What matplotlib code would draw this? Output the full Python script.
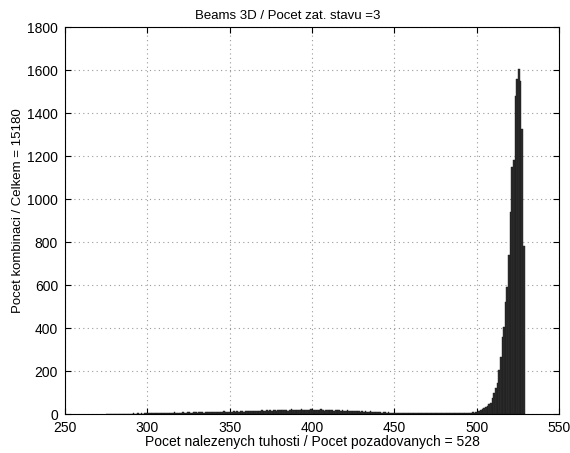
import numpy as np
import matplotlib
matplotlib.use('Agg')
import matplotlib.pyplot as plt

plt.rcParams['font.family'] = ['Liberation Sans', 'DejaVu Sans']

# pocty kombinaci pro kazdy pocet nalezenych tuhosti (od 275 do 528)
start_n = 275
counts_275_299 = [0, 0, 0, 1, 0, 1, 0, 1, 2, 1, 1, 2, 1, 2, 2, 1, 3, 2, 2, 3, 2, 3, 2, 4, 3]
counts_300_349 = [4, 5, 4, 6, 5, 5, 6, 4, 6, 7, 5, 6, 7, 6, 5, 7, 8, 6, 7, 6,
                  7, 8, 6, 7, 9, 8, 7, 6, 8, 9, 7, 8, 9, 8, 7, 9, 10, 8, 9, 8,
                  10, 9, 8, 11, 9, 10, 12, 9, 10, 11]
counts_350_399 = [11, 10, 12, 11, 13, 10, 12, 14, 11, 13, 12, 14, 13, 15, 12, 14, 16, 13, 15, 17,
                  14, 16, 18, 15, 17, 16, 19, 17, 15, 18, 20, 17, 19, 21, 18, 16, 20, 22, 19, 17,
                  21, 18, 20, 23, 19, 17, 21, 20, 18, 22]
counts_400_449 = [19, 21, 17, 20, 18, 22, 19, 16, 20, 18, 17, 19, 21, 16, 18, 20, 17, 15, 19, 16,
                  14, 17, 15, 13, 16, 14, 12, 15, 13, 11, 12, 10, 13, 11, 9, 12, 10, 8, 11, 9,
                  8, 10, 7, 9, 8, 6, 8, 7, 5, 7]
counts_450_497 = [6, 5, 4, 6, 5, 4, 5, 3, 4, 5, 4, 3, 5, 4, 3, 4, 3, 5, 4, 3,
                  4, 3, 4, 5, 3, 4, 3, 4, 5, 4, 3, 4, 5, 4, 3, 5, 4, 5, 6, 5,
                  4, 6, 5, 6, 7, 6, 7, 8]
counts_498_528 = [6, 8, 10, 14, 19, 22, 28, 32, 37, 45, 52, 75, 98, 120, 145, 205, 265, 360, 405, 520,
                  590, 740, 940, 1150, 1180, 1480, 1560, 1605, 1550, 1325, 780]

counts = (counts_275_299 + counts_300_349 + counts_350_399 + counts_400_449
          + counts_450_497 + counts_498_528)
n_found = np.arange(start_n, start_n + len(counts))

fig = plt.figure(figsize=(5.70, 4.53), dpi=100)
ax = fig.add_axes([0.114, 0.086, 0.867, 0.854])

ax.bar(n_found, counts, width=1.0, align='edge', color='#2e2e2e', edgecolor='#1a1a1a', linewidth=0.3)

ax.set_xlim(250, 550)
ax.set_ylim(0, 1800)
ax.set_xticks(np.arange(250, 551, 50))
ax.set_yticks(np.arange(0, 1801, 200))
ax.grid(True, color='#999999', linestyle=(0, (1, 3)), linewidth=0.8)
ax.set_axisbelow(True)
ax.tick_params(direction='in', top=True, right=True, labelsize=10, length=4)
ax.tick_params(axis='x', pad=5)
ax.tick_params(axis='y', pad=5)
for s in ax.spines.values():
    s.set_linewidth(0.8)

ax.set_title('Beams 3D / Pocet zat. stavu =3', fontsize=9.5, pad=6, x=0.451)
ax.set_xlabel('Pocet nalezenych tuhosti / Pocet pozadovanych = 528', fontsize=10, labelpad=0)
ax.set_ylabel('Pocet kombinaci / Celkem = 15180', fontsize=9.5)
ax.yaxis.set_label_coords(-0.083, 0.527)

fig.savefig('out.png', dpi=100)
